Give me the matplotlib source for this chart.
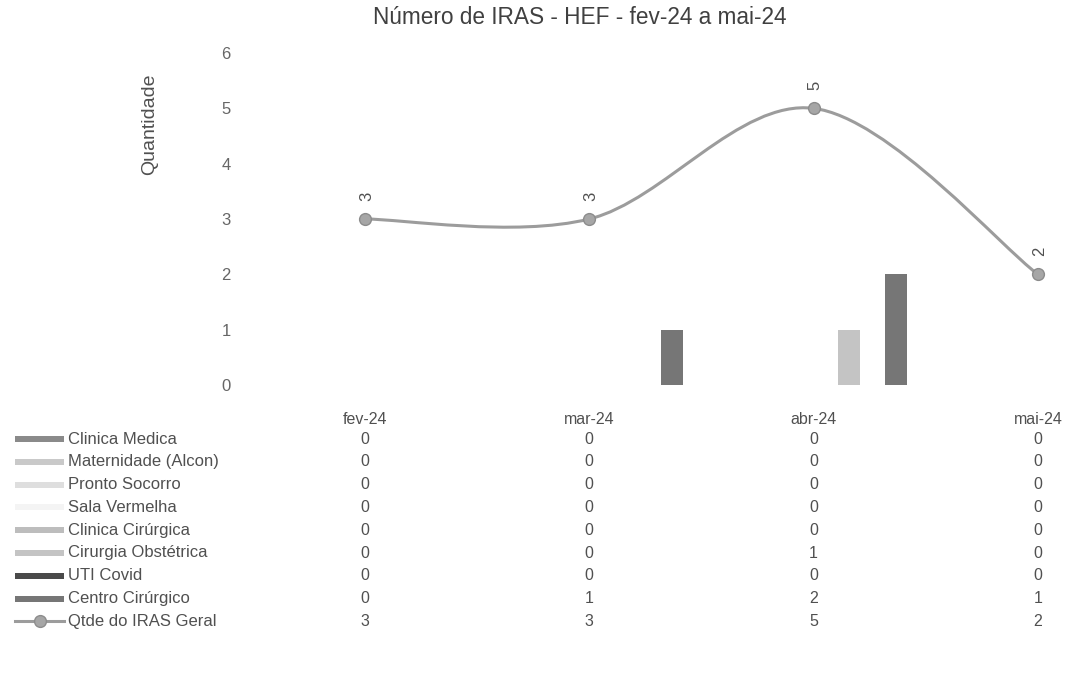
import numpy as np
import matplotlib.pyplot as plt
from matplotlib.path import Path
from matplotlib.patches import PathPatch, Rectangle
from matplotlib.lines import Line2D
from matplotlib.transforms import blended_transform_factory

# Data
months = ["fev-24", "mar-24", "abr-24", "mai-24"]
series_names = ["Clinica Medica", "Maternidade (Alcon)", "Pronto Socorro", "Sala Vermelha",
                "Clinica Cirúrgica", "Cirurgia Obstétrica", "UTI Covid", "Centro Cirúrgico"]
clinica_medica = [0, 0, 0, 0]
maternidade = [0, 0, 0, 0]
pronto_socorro = [0, 0, 0, 0]
sala_vermelha = [0, 0, 0, 0]
clinica_cirurgica = [0, 0, 0, 0]
cirurgia_obstetrica = [0, 0, 1, 0]
uti_covid = [0, 0, 0, 0]
centro_cirurgico = [0, 1, 2, 1]
total_iras = [3, 3, 5, 2]
total_name = "Qtde do IRAS Geral"
y_ticks = [0, 1, 2, 3, 4, 5, 6]

series_values = [clinica_medica, maternidade, pronto_socorro, sala_vermelha,
                 clinica_cirurgica, cirurgia_obstetrica, uti_covid, centro_cirurgico]
series_colors = ["#8a8a8a", "#c9c9c9", "#dedede", "#f4f4f4",
                 "#bdbdbd", "#c4c4c4", "#4a4a4a", "#767676"]
line_color = "#9c9c9c"
text_color = "#505050"

plt.rcParams['font.family'] = ['Liberation Sans', 'DejaVu Sans']

W, H = 1065, 683
fig = plt.figure(figsize=(W / 100, H / 100), dpi=100)
fig.patch.set_facecolor("white")


def fy(py):
    # figure fraction from a pixel row counted from the top
    return 1 - py / H


# plot area: months ~224 px apart, the last group runs past the right edge
step = 224.3
ax = fig.add_axes([(365 - step / 2) / W, fy(385), 4 * step / W, 332 / H])
ax.set_xlim(-0.5, 3.5)
ax.set_ylim(0, 6)
for s in ax.spines.values():
    s.set_visible(False)
ax.set_xticks([])
ax.set_yticks(y_ticks)
ax.tick_params(axis="y", length=0, pad=16, labelsize=12, labelcolor="#666666")

# clustered bars, 8 series per month
x = np.arange(len(months))
slot = 0.105
bar_w = 0.098
for i, (vals, col) in enumerate(zip(series_values, series_colors)):
    ax.bar(x + (i - 3.5) * slot, vals, width=bar_w, color=col, linewidth=0)


# Excel-style smoothed line (bezier through the points)
def smooth_path(xs, ys):
    pts = np.column_stack([xs, ys]).astype(float)
    n = len(pts)
    verts = [pts[0]]
    codes = [Path.MOVETO]
    for i in range(n - 1):
        p0 = pts[max(i - 1, 0)]
        p1 = pts[i]
        p2 = pts[i + 1]
        p3 = pts[min(i + 2, n - 1)]
        verts += [p1 + (p2 - p0) / 6, p2 - (p3 - p1) / 6, p2]
        codes += [Path.CURVE4] * 3
    return Path(verts, codes)


ax.add_patch(PathPatch(smooth_path(x, total_iras), facecolor="none",
                       edgecolor=line_color, lw=2.2, zorder=3))
ax.plot(x, total_iras, "o", ms=8.5, mfc="#a6a6a6", mec="#8c8c8c", mew=1, zorder=4)

for xi, v in zip(x, total_iras):
    ax.annotate(str(v), (xi, v), xytext=(1, 13), textcoords="offset points",
                rotation=90, ha="center", va="bottom", fontsize=12, color=text_color)

# title and axis label
fig.text(580 / W, fy(18), "Número de IRAS - HEF - fev-24 a mai-24", ha="center",
         va="center", fontsize=16.3, color="#404040")
fig.text(150 / W, fy(124), "Quantidade", rotation=90, ha="center", va="center",
         fontsize=14, color=text_color)

# data table under the chart
tr = blended_transform_factory(ax.transData, fig.transFigure)
for xi, m in zip(x, months):
    fig.text(xi, fy(420), m, transform=tr, ha="center", va="center",
             fontsize=11.5, color=text_color)

row_y = [439 + 22.8 * k for k in range(9)]
all_rows = series_values + [total_iras]
all_names = series_names + [total_name]
for k, (name, vals) in enumerate(zip(all_names, all_rows)):
    yy = fy(row_y[k])
    fig.text(68 / W, yy, name, ha="left", va="center", fontsize=12, color=text_color)
    for xi, v in zip(x, vals):
        fig.text(xi, yy, str(v), transform=tr, ha="center", va="center",
                 fontsize=11.5, color=text_color)
    if k < len(series_values):
        fig.add_artist(Rectangle((15 / W, yy - 3 / H), 49 / W, 6 / H,
                                 transform=fig.transFigure, color=series_colors[k], lw=0))
    else:
        fig.add_artist(Line2D([15 / W, 64 / W], [yy, yy], transform=fig.transFigure,
                              color=line_color, lw=2.2))
        fig.add_artist(Line2D([40 / W], [yy], transform=fig.transFigure, marker="o",
                              ms=8.5, mfc="#a6a6a6", mec="#8c8c8c", mew=1))

fig.savefig("out.png", dpi=100)
